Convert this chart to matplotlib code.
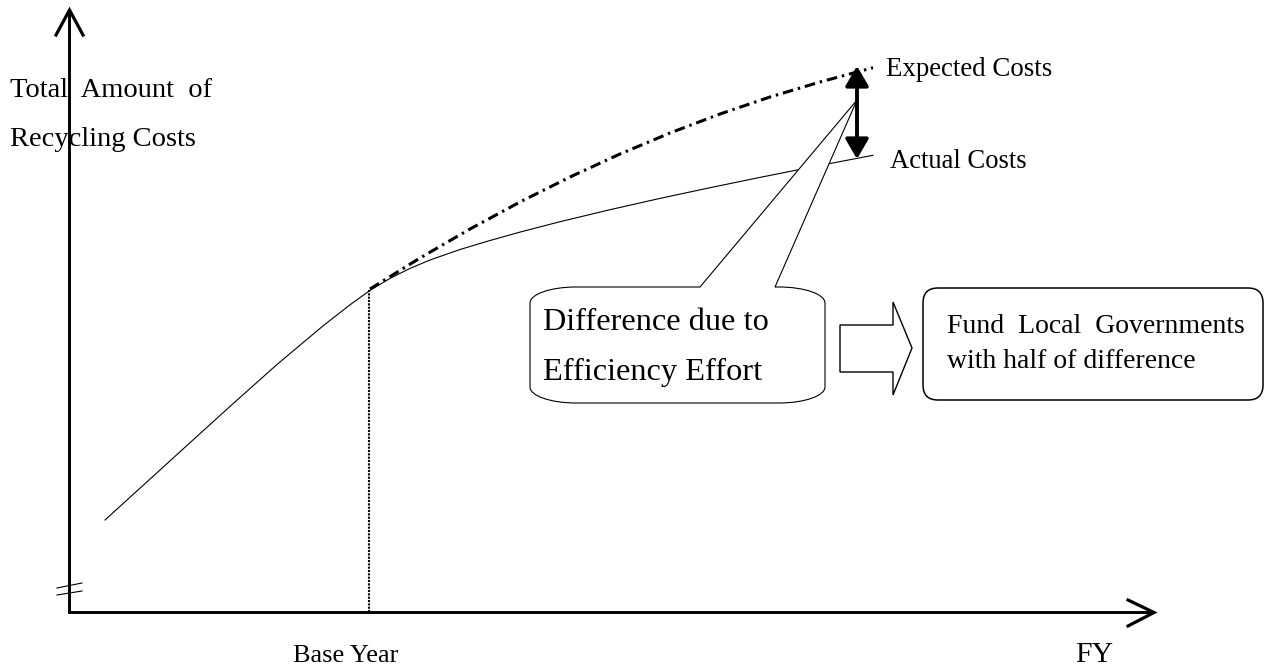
import matplotlib.pyplot as plt
from matplotlib.patches import FancyBboxPatch, Polygon, PathPatch
from matplotlib.path import Path

plt.rcParams['font.family'] = ['Liberation Serif', 'DejaVu Serif']

# conceptual curves (pixel-like coordinates, y grows downwards)
actual_x = [105, 150, 190, 235, 277, 323, 350, 370, 390, 410, 430, 460, 490, 520,
            560, 610, 660, 710, 760, 800, 840, 873]
actual_y = [520, 479.1, 442.7, 401.9, 364.5, 325.9, 304.8, 290.4, 278.4, 268.4, 260.0, 249.5,
            240.5, 232.1, 221.7, 209.7, 198.4, 187.7, 177.4, 169.4, 161.6, 155.3]
expected_x = [370, 420, 470, 520, 570, 620, 670, 720, 770, 820, 873]
expected_y = [289, 258, 229, 202, 177, 154, 133, 114, 97, 82, 67.7]
base_year_x = 369
y_label = ['Total  Amount  of', 'Recycling Costs']
box_left = ['Difference due to', 'Efficiency Effort']
box_right = ['Fund  Local  Governments', 'with half of difference']

fig = plt.figure(figsize=(12.69, 6.66), dpi=100)
ax = fig.add_axes([0, 0, 1, 1])
ax.set_xlim(0, 1269)
ax.set_ylim(666, 0)
ax.axis('off')

# axes with open arrow heads
ax.plot([69, 69], [612, 11], color='black', lw=2.1)
ax.plot([56, 69.5, 83], [35, 10, 35], color='black', lw=2.3, solid_joinstyle='miter')
ax.plot([69, 1153], [612, 612], color='black', lw=2.1)
ax.plot([1128, 1154, 1128], [600, 612.5, 626], color='black', lw=2.3, solid_joinstyle='miter')
# axis break
ax.plot([57, 82], [588, 583], color='black', lw=0.8)
ax.plot([57, 82], [595, 591], color='black', lw=0.8)

ax.plot(actual_x, actual_y, color='black', lw=0.8)
ax.plot(expected_x, expected_y, color='black', lw=2.2, linestyle=(0, (3.5, 1.6, 0.8, 1.6)))
ax.plot([base_year_x, base_year_x], [actual_y[7], 612], color='black', lw=1.5, linestyle=(0, (1, 0.6)))

# difference arrow
ax.annotate('', xy=(857, 66), xytext=(857, 159),
            arrowprops=dict(arrowstyle='<|-|>,head_length=0.55,head_width=0.32', color='black',
                            lw=2.8, mutation_scale=22, shrinkA=0, shrinkB=0))

# callout with elliptical corners and pointer
x0, x1, y0, y1, rx, ry, k = 530, 825, 287, 403, 46, 16, 0.5523
verts = [(x0 + rx, y0), (700, y0), (857, 100), (775, y0), (x1 - rx, y0),
         (x1 - rx + k * rx, y0), (x1, y0 + ry - k * ry), (x1, y0 + ry),
         (x1, y1 - ry),
         (x1, y1 - ry + k * ry), (x1 - rx + k * rx, y1), (x1 - rx, y1),
         (x0 + rx, y1),
         (x0 + rx - k * rx, y1), (x0, y1 - ry + k * ry), (x0, y1 - ry),
         (x0, y0 + ry),
         (x0, y0 + ry - k * ry), (x0 + rx - k * rx, y0), (x0 + rx, y0),
         (x0 + rx, y0)]
codes = [Path.MOVETO, Path.LINETO, Path.LINETO, Path.LINETO, Path.LINETO,
         Path.CURVE4, Path.CURVE4, Path.CURVE4, Path.LINETO,
         Path.CURVE4, Path.CURVE4, Path.CURVE4, Path.LINETO,
         Path.CURVE4, Path.CURVE4, Path.CURVE4, Path.LINETO,
         Path.CURVE4, Path.CURVE4, Path.CURVE4, Path.CLOSEPOLY]
ax.add_patch(PathPatch(Path(verts, codes), fc='white', ec='black', lw=0.8, zorder=3))
for i, t in enumerate(box_left):
    ax.text(543, 330 + 50 * i, t, fontsize=23.3, va='baseline', ha='left', zorder=6)

# block arrow
ax.add_patch(Polygon([[840, 325], [893, 325], [893, 302], [912, 348], [893, 395], [893, 372], [840, 372]],
                     closed=True, fc='white', ec='black', lw=1))

ax.add_patch(FancyBboxPatch((923, 288), 340, 112, boxstyle='round,pad=0,rounding_size=15',
                            fc='white', ec='black', lw=1.1))
for i, t in enumerate(box_right):
    ax.text(947, 333 + 35 * i, t, fontsize=20, va='baseline', ha='left')

for i, t in enumerate(y_label):
    ax.text(10, 97 + 49 * i, t, fontsize=20.5, va='baseline', ha='left')

ax.text(886, 76, 'Expected Costs', fontsize=19.4, va='baseline', ha='left')
ax.text(890, 168, 'Actual Costs', fontsize=19.2, va='baseline', ha='left')
ax.text(346, 662, 'Base Year', fontsize=19, va='baseline', ha='center')
ax.text(1094, 662, 'FY', fontsize=21.4, va='baseline', ha='center')

fig.savefig('out.png', dpi=100)
